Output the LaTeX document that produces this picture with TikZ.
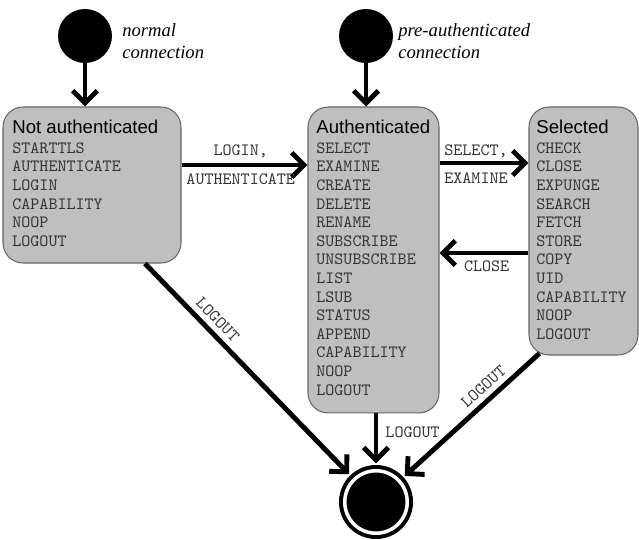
\documentclass[tikz,border=0pt]{standalone}
\usepackage{fontspec}
\setmainfont{Liberation Serif}
\setsansfont{Liberation Sans}
\usetikzlibrary{arrows.meta}
\tikzset{
    state/.style = {draw = black!60, line width = 0.6pt, fill = black!25, rounded corners = 0.4cm, inner sep = 0pt},
    startdot/.style = {circle, fill = black, minimum size = 1.08cm, inner sep = 0pt},
    enddot/.style = {circle, draw = black, fill = black, line width = 0.08cm, double = white, double distance = 0.07cm, minimum size = 1.25cm, inner sep = 0pt, outer sep = 0.15cm},
    title/.style = {anchor = west, inner sep = 0pt, font = \sffamily\fontsize{10.6}{12}\selectfont},
    cmd/.style = {anchor = west, inner sep = 0pt, text = black!80, font = \ttfamily\fontsize{9.8}{11}\selectfont},
    lbl/.style = {inner sep = 0pt, text = black!80, font = \ttfamily\fontsize{9.8}{11}\selectfont},
    note/.style = {anchor = west, align = left, inner sep = 0pt, font = \itshape\fontsize{10.6}{12.5}\selectfont},
    flow/.style = {line width = 2.8pt, -{Straight Barb[length = 7pt, width = 14pt, sharp]}}
}
\begin{document}
\begin{tikzpicture}[x = 0.02cm, y = -0.02cm]
    \useasboundingbox (0,0) rectangle (639,540);
    % states
    \node[state, minimum width = 3.56cm, minimum height = 3.12cm] (notauth) at (92,185) {};
    \node[state, minimum width = 2.62cm, minimum height = 6.12cm] (auth) at (373.5,260) {};
    \node[state, minimum width = 2.18cm, minimum height = 4.96cm] (sel) at (583.5,231) {};
    \node[title] (notauthT) at (12,127) {Not authenticated};
    \node[title] (authT) at (316,127) {Authenticated};
    \node[title] (selT) at (536,127) {Selected};
    \foreach \c [count = \i] in {STARTTLS, AUTHENTICATE, LOGIN, CAPABILITY, NOOP, LOGOUT}
        \node[cmd] (na\i) at (12, 129.4 + 18.6*\i) {\c};
    \foreach \c [count = \i] in {SELECT, EXAMINE, CREATE, DELETE, RENAME, SUBSCRIBE, UNSUBSCRIBE,
                                LIST, LSUB, STATUS, APPEND, CAPABILITY, NOOP, LOGOUT}
        \node[cmd] (au\i) at (316, 129.4 + 18.6*\i) {\c};
    \foreach \c [count = \i] in {CHECK, CLOSE, EXPUNGE, SEARCH, FETCH, STORE, COPY, UID,
                                CAPABILITY, NOOP, LOGOUT}
        \node[cmd] (se\i) at (536, 129.4 + 18.6*\i) {\c};
    % entry and exit
    \node[startdot] (initN) at (85,36) {};
    \node[startdot] (initP) at (366,36) {};
    \node[note] (noteN) at (122,41) {normal\\connection};
    \node[note] (noteP) at (398,41) {pre-authenticated\\connection};
    \node[enddot] (logout) at (376,502) {};
    % transitions
    \draw[flow] (initN) -- (initN |- notauth.north);
    \draw[flow] (initP) -- (initP |- auth.north);
    \draw[flow] (notauth.east |- 0,165) -- (auth.west |- 0,165)
        node[lbl, pos = 0.47, yshift = 7.5pt] {LOGIN,}
        node[lbl, pos = 0.47, yshift = -8pt] {AUTHENTICATE};
    \draw[flow] (auth.east |- 0,163) -- (sel.west |- 0,163)
        node[lbl, pos = 0.41, yshift = 6.5pt] {SELECT,}
        node[lbl, pos = 0.41, yshift = -8.5pt] {EXAMINE};
    \draw[flow] (sel.west |- 0,253) -- (auth.east |- 0,253)
        node[lbl, pos = 0.47, yshift = -7.4pt] {CLOSE};
    \draw[flow] (logout |- auth.south) -- (logout)
        node[lbl, pos = 0.37, right = 4pt] {LOGOUT};
    \draw[flow] ([xshift = 1.06cm]notauth.south) -- (logout)
        node[lbl, pos = 0.31, sloped, above = 3pt] {LOGOUT};
    \draw[flow] ([xshift = 0.22cm, yshift = 1.2pt]sel.south west) -- (logout)
        node[lbl, pos = 0.35, sloped, above = 3pt] {LOGOUT};
\end{tikzpicture}
\end{document}
